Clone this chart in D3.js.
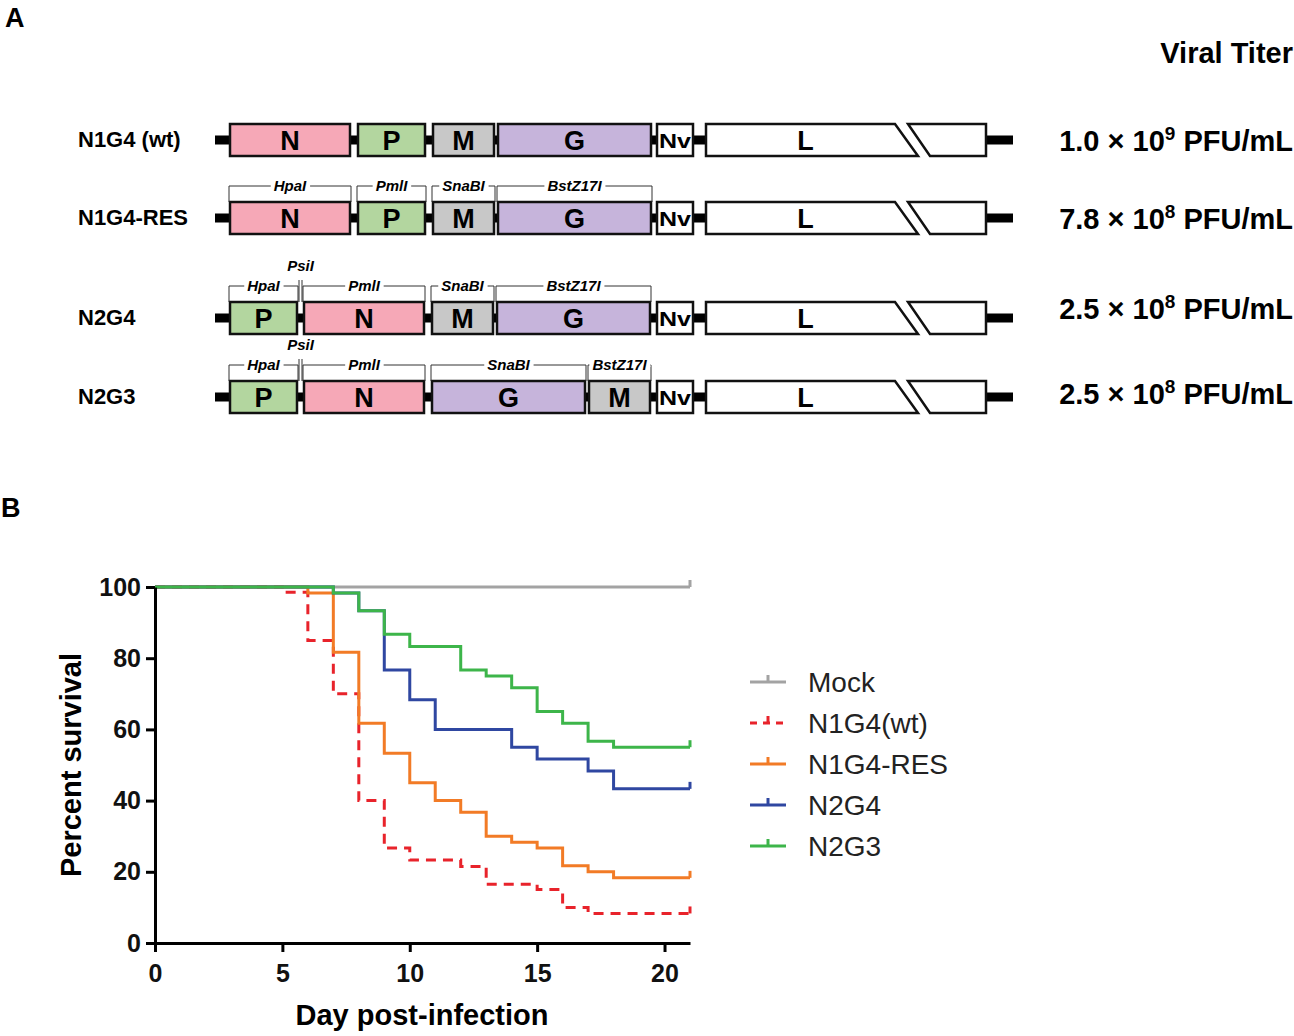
<!DOCTYPE html>
<html>
<head>
<meta charset="utf-8">
<script src="https://cdn.jsdelivr.net/npm/d3@7"></script>
<style>
  body { margin: 0; background: #fff; }
  text { font-family: "Liberation Sans", Arial, Helvetica, sans-serif; }
</style>
</head>
<body>
<div id="chart"></div>
<script>
////////////////////////////////////////////////
////////////////// Data ////////////////////////
////////////////////////////////////////////////

// panel A - constructs
const constructNames = ["N1G4 (wt)", "N1G4-RES", "N2G4", "N2G3"];
const geneOrders = [["N", "P", "M", "G"], ["N", "P", "M", "G"], ["P", "N", "M", "G"], ["P", "N", "G", "M"]];
const siteLabels = [[], ["HpaI", "PmlI", "SnaBI", "BstZ17I"], ["HpaI", "PmlI", "SnaBI", "BstZ17I"], ["HpaI", "PmlI", "SnaBI", "BstZ17I"]];
const hasPsiI = [false, false, true, true];
const titerMantissa = ["1.0", "7.8", "2.5", "2.5"];
const titerExponent = ["9", "8", "8", "8"];

// schematic gene lengths (arbitrary units) and gaps between genes
const geneLength = { N: 120, P: 67, M: 61, G: 153 };
const geneGaps = [[8, 8, 4], [8, 8, 4], [7, 8, 4], [7, 8, 4]];

// panel B - survival curves [day, percent]
const seriesNames = ["Mock", "N1G4(wt)", "N1G4-RES", "N2G4", "N2G3"];
const mockSteps = [[0, 100], [21, 100]];
const wtSteps = [[0, 100], [5, 98.5], [6, 85], [7, 70], [8, 40], [9, 26.7], [10, 23.3], [12, 21.5], [13, 16.5], [15, 15], [16, 10], [17, 8.3], [21, 8.3]];
const resSteps = [[0, 100], [6, 98.3], [7, 81.7], [8, 61.7], [9, 53.3], [10, 45], [11, 40], [12, 36.7], [13, 30], [14, 28.3], [15, 26.7], [16, 21.7], [17, 20], [18, 18.3], [21, 18.3]];
const n2g4Steps = [[0, 100], [7, 98.3], [8, 93.3], [9, 76.7], [10, 68.3], [11, 60], [14, 55], [15, 51.7], [17, 48.3], [18, 43.3], [21, 43.3]];
const n2g3Steps = [[0, 100], [7, 98.3], [8, 93.3], [9, 86.7], [10, 83.3], [12, 76.7], [13, 75], [14, 71.7], [15, 65], [16, 61.7], [17, 56.7], [18, 55], [21, 55]];
const xTicks = [0, 5, 10, 15, 20];
const yTicks = [0, 20, 40, 60, 80, 100];

////////////////////////////////////////////////
/////////////// Constants //////////////////////
////////////////////////////////////////////////
const width = 1294;
const height = 1036;

const geneColours = { N: "#f6a8b7", P: "#b3d69f", M: "#c8c8c8", G: "#c6b4db" };
const seriesColours = ["#a3a3a3", "#e8232b", "#f27b26", "#2f47a1", "#3db54a"];

const rowCentres = [140, 218, 318, 397];
const titerCentres = [140, 218, 308, 393];
const boxH = 32;

const svg = d3.select("#chart").append("svg")
  .attr("width", width)
  .attr("height", height);

// panel letters
svg.append("text").attr("x", 5).attr("y", 27).attr("font-size", 27).attr("font-weight", "bold").text("A");
svg.append("text").attr("x", 1).attr("y", 517).attr("font-size", 27).attr("font-weight", "bold").text("B");

////////////////////////////////////////////////
/////////////// Panel A ////////////////////////
////////////////////////////////////////////////
const xSchem = d3.scaleLinear().domain([0, 800]).range([215, 1015]);
const genesStart = 15;   // schematic units before first gene
const nvStart = 442, nvLen = 36;
const lStart = 491, lTopEnd = 680, lBotEnd = 703;
const l2TopStart = 693, l2BotStart = 715, l2End = 771;
const tailEnd = 798;

const gA = svg.append("g").attr("class", "panel-a");

svg.append("text")
  .attr("x", 1293).attr("y", 63)
  .attr("text-anchor", "end")
  .attr("font-size", 29).attr("font-weight", "bold")
  .text("Viral Titer");

constructNames.forEach((name, r) => {
  const cy = rowCentres[r];
  const top = cy - boxH / 2, bot = cy + boxH / 2;
  const row = gA.append("g");

  // row label
  row.append("text")
    .attr("x", 78).attr("y", cy + 7)
    .attr("font-size", 22).attr("font-weight", "bold")
    .text(name);

  // backbone
  row.append("rect")
    .attr("x", xSchem(0)).attr("y", cy - 4.5)
    .attr("width", xSchem(lStart) - xSchem(0)).attr("height", 9)
    .attr("fill", "#000");
  row.append("rect")
    .attr("x", xSchem(l2End)).attr("y", cy - 4.5)
    .attr("width", xSchem(tailEnd) - xSchem(l2End)).attr("height", 9)
    .attr("fill", "#000");

  // gene boxes
  let pos = genesStart;
  const slots = geneOrders[r].map((gName, i) => {
    const s = { gene: gName, x0: pos, x1: pos + geneLength[gName] };
    pos = s.x1 + (geneGaps[r][i] || 0);
    return s;
  });

  row.selectAll(".gene").data(slots).join("rect")
    .attr("class", "gene")
    .attr("x", d => xSchem(d.x0)).attr("y", top)
    .attr("width", d => xSchem(d.x1) - xSchem(d.x0)).attr("height", boxH)
    .attr("fill", d => geneColours[d.gene])
    .attr("stroke", "#111").attr("stroke-width", 2.5);

  row.selectAll(".gene-label").data(slots).join("text")
    .attr("class", "gene-label")
    .attr("x", d => xSchem((d.x0 + d.x1) / 2)).attr("y", cy + 10)
    .attr("text-anchor", "middle")
    .attr("font-size", 27).attr("font-weight", "bold")
    .text(d => d.gene);

  // Nv box
  row.append("rect")
    .attr("x", xSchem(nvStart)).attr("y", top)
    .attr("width", xSchem(nvStart + nvLen) - xSchem(nvStart)).attr("height", boxH)
    .attr("fill", "#fff").attr("stroke", "#111").attr("stroke-width", 2.5);
  row.append("text")
    .attr("x", xSchem(nvStart + nvLen / 2)).attr("y", cy + 8)
    .attr("text-anchor", "middle")
    .attr("font-size", 21).attr("font-weight", "bold")
    .attr("textLength", 32).attr("lengthAdjust", "spacingAndGlyphs")
    .text("Nv");

  // L gene with break
  const pts1 = [[lStart, top], [lTopEnd, top], [lBotEnd, bot], [lStart, bot]];
  const pts2 = [[l2TopStart, top], [l2End, top], [l2End, bot], [l2BotStart, bot]];
  [pts1, pts2].forEach(p => {
    row.append("path")
      .attr("d", d3.line().x(d => xSchem(d[0])).y(d => d[1])(p) + "Z")
      .attr("fill", "#fff").attr("stroke", "#111").attr("stroke-width", 2.5)
      .attr("stroke-linejoin", "miter");
  });
  row.append("text")
    .attr("x", xSchem((lStart + lTopEnd) / 2 + 5)).attr("y", cy + 10)
    .attr("text-anchor", "middle")
    .attr("font-size", 27).attr("font-weight", "bold")
    .text("L");

  // restriction site brackets
  const bracketY = top - 16;
  siteLabels[r].forEach((lab, i) => {
    const s = slots[i];
    const bx0 = xSchem(s.x0) - 1, bx1 = xSchem(s.x1) + 1;
    const mid = (bx0 + bx1) / 2;
    row.append("path")
      .attr("d", `M${bx0},${top}V${bracketY}H${bx1}V${top}`)
      .attr("fill", "none").attr("stroke", "#333").attr("stroke-width", 1);
    const t = row.append("text")
      .attr("x", mid).attr("y", bracketY + 5)
      .attr("text-anchor", "middle")
      .attr("font-size", 15).attr("font-weight", "bold").attr("font-style", "italic")
      .text(lab);
    const bb = t.node().getBBox();
    row.insert("rect", () => t.node())
      .attr("x", bb.x - 3).attr("y", bracketY - 2)
      .attr("width", bb.width + 6).attr("height", 4)
      .attr("fill", "#fff");
  });

  if (hasPsiI[r]) {
    const px = (xSchem(slots[0].x1) + xSchem(slots[1].x0)) / 2;
    [-1.5, 1.5].forEach(dx => {
      row.append("line")
        .attr("x1", px + dx).attr("x2", px + dx)
        .attr("y1", bracketY - 6).attr("y2", top)
        .attr("stroke", "#333").attr("stroke-width", 1);
    });
    row.append("text")
      .attr("x", px).attr("y", bracketY - 15)
      .attr("text-anchor", "middle")
      .attr("font-size", 15).attr("font-weight", "bold").attr("font-style", "italic")
      .text("PsiI");
  }

  // titer
  const tt = svg.append("text")
    .attr("x", 1293).attr("y", titerCentres[r] + 11)
    .attr("text-anchor", "end")
    .attr("font-size", 29).attr("font-weight", "bold");
  tt.append("tspan").text(`${titerMantissa[r]} \u00d7 10`);
  tt.append("tspan").attr("font-size", 19).attr("dy", -11).text(titerExponent[r]);
  tt.append("tspan").attr("dy", 11).text(" PFU/mL");
});

////////////////////////////////////////////////
/////////////// Panel B ////////////////////////
////////////////////////////////////////////////
const x = d3.scaleLinear().domain([0, 21]).range([155, 690]);
const y = d3.scaleLinear().domain([0, 100]).range([943, 587]);
const gB = svg.append("g").attr("class", "panel-b");

const series = [mockSteps, wtSteps, resSteps, n2g4Steps, n2g3Steps];
const stepLine = d3.line().x(d => x(d[0])).y(d => y(d[1])).curve(d3.curveStepAfter);

series.forEach((s, i) => {
  gB.append("path")
    .attr("d", stepLine(s))
    .attr("fill", "none")
    .attr("stroke", seriesColours[i])
    .attr("stroke-width", 3)
    .attr("stroke-dasharray", i === 1 ? "10,7" : null);
  // censor tick at end
  const last = s[s.length - 1];
  gB.append("line")
    .attr("x1", x(last[0])).attr("x2", x(last[0]))
    .attr("y1", y(last[1])).attr("y2", y(last[1]) - 7)
    .attr("stroke", seriesColours[i]).attr("stroke-width", 3);
});

// axes
const yAxis = gB.append("g")
  .attr("transform", `translate(${x(0)},0)`)
  .call(d3.axisLeft(y).tickValues(yTicks).tickSize(9).tickPadding(5).tickSizeOuter(0));
const xAxis = gB.append("g")
  .attr("transform", `translate(0,${y(0)})`)
  .call(d3.axisBottom(x).tickValues(xTicks).tickSize(9).tickPadding(12).tickSizeOuter(0));
[xAxis, yAxis].forEach(a => {
  a.select(".domain").attr("stroke", "#000").attr("stroke-width", 3);
  a.selectAll(".tick line").attr("stroke", "#000").attr("stroke-width", 3);
  a.selectAll(".tick text")
    .attr("fill", "#111")
    .attr("font-size", 25).attr("font-weight", "bold")
    .attr("font-family", "'Liberation Sans', Arial, sans-serif");
});

gB.append("text")
  .attr("transform", `translate(81,765)rotate(-90)`)
  .attr("text-anchor", "middle")
  .attr("font-size", 29).attr("font-weight", "bold")
  .text("Percent survival");
gB.append("text")
  .attr("x", 422).attr("y", 1025)
  .attr("text-anchor", "middle")
  .attr("font-size", 29).attr("font-weight", "bold")
  .text("Day post-infection");

// legend
const legend = gB.append("g").attr("transform", "translate(750,682)");
seriesNames.forEach((n, i) => {
  const ly = i * 41;
  legend.append("line")
    .attr("x1", 0).attr("x2", 36).attr("y1", ly).attr("y2", ly)
    .attr("stroke", seriesColours[i]).attr("stroke-width", 3)
    .attr("stroke-dasharray", i === 1 ? "7,6" : null);
  legend.append("line")
    .attr("x1", 18).attr("x2", 18).attr("y1", ly).attr("y2", ly - 7)
    .attr("stroke", seriesColours[i]).attr("stroke-width", 3);
  legend.append("text")
    .attr("x", 58).attr("y", ly + 10)
    .attr("font-size", 28).attr("fill", "#222")
    .text(n);
});
</script>
</body>
</html>
